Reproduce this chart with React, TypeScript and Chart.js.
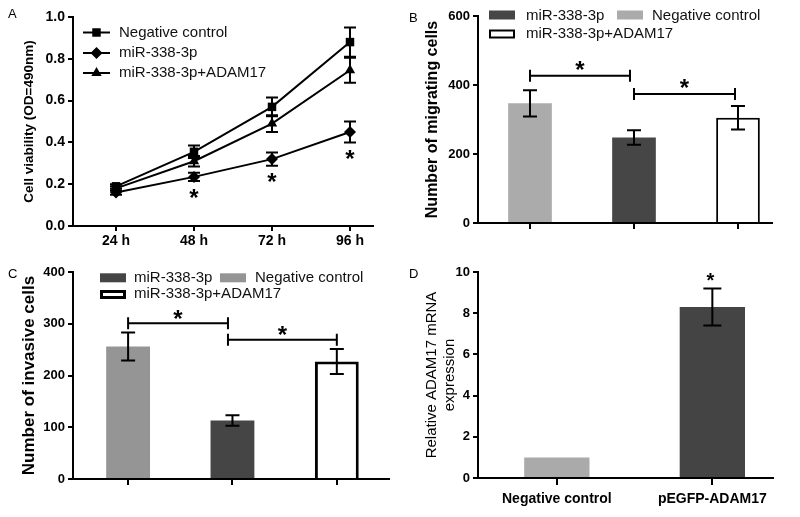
import React, { useEffect, useRef } from 'react';
import { Chart, registerables } from 'chart.js';

Chart.register(...registerables);

const FONT = '"Liberation Sans", Arial, Helvetica, sans-serif';

// ---------- Panel A: cell viability ----------
const timeLabels = ['24 h', '48 h', '72 h', '96 h'];
const timeHours = [24, 48, 72, 96];
const viabilityNC = [0.19, 0.355, 0.57, 0.88];
const viabilityNCErr = [0.01, 0.03, 0.045, 0.07];
const viabilityMiR = [0.16, 0.235, 0.32, 0.45];
const viabilityMiRErr = [0.01, 0.02, 0.032, 0.05];
const viabilityADAM = [0.18, 0.31, 0.49, 0.745];
const viabilityADAMErr = [0.01, 0.025, 0.04, 0.06];
const viabilityStarIdx = [1, 2, 3];
const seriesNames = ['Negative control', 'miR-338-3p', 'miR-338-3p+ADAM17'];

// ---------- Panels B & C: migration / invasion ----------
const groupNames = ['Negative control', 'miR-338-3p', 'miR-338-3p+ADAM17'];
const migratingCells = [347, 248, 305];
const migratingErr = [38, 21, 34];
const migratingBrackets = [[0, 1, 427], [1, 2, 374]];
const invasiveCells = [256, 113, 227];
const invasiveErr = [27, 10, 24];
const invasiveBrackets = [[0, 1, 301], [1, 2, 269]];

// ---------- Panel D: ADAM17 mRNA ----------
const expressionNames = ['Negative control', 'pEGFP-ADAM17'];
const expressionValues = [1.0, 8.3];
const expressionErr = [0, 0.9];
const expressionStarIdx = [1];

const BLACK = '#000';

const errorBarPlugin = {
  id: 'errorBars',
  afterDatasetsDraw(chart: any) {
    const ctx = chart.ctx;
    const ys = chart.scales.y;
    chart.data.datasets.forEach((ds: any, di: number) => {
      const errs = ds.errors;
      if (!errs) return;
      const meta = chart.getDatasetMeta(di);
      const cap = ds.capHalf ?? 6;
      ctx.save();
      ctx.strokeStyle = BLACK;
      ctx.lineWidth = 2;
      meta.data.forEach((el: any, i: number) => {
        const e = errs[i];
        if (!e) return;
        const v = ds.data[i].y;
        const x = el.x;
        const y1 = ys.getPixelForValue(v + e);
        const y2 = ys.getPixelForValue(v - e);
        ctx.beginPath();
        ctx.moveTo(x, y1); ctx.lineTo(x, y2);
        ctx.moveTo(x - cap, y1); ctx.lineTo(x + cap, y1);
        ctx.moveTo(x - cap, y2); ctx.lineTo(x + cap, y2);
        ctx.stroke();
      });
      ctx.restore();
    });
  },
};

function drawStar(ctx: CanvasRenderingContext2D, x: number, cy: number, size = 24) {
  ctx.save();
  ctx.fillStyle = BLACK;
  ctx.font = `bold ${size}px ${FONT}`;
  ctx.textAlign = 'center';
  ctx.textBaseline = 'alphabetic';
  ctx.fillText('*', x, cy + size * 0.56);
  ctx.restore();
}

function drawLetter(ctx: CanvasRenderingContext2D, t: string, x: number, y: number) {
  ctx.save();
  ctx.fillStyle = BLACK;
  ctx.font = `13px ${FONT}`;
  ctx.textAlign = 'left';
  ctx.textBaseline = 'alphabetic';
  ctx.fillText(t, x, y);
  ctx.restore();
}

function drawText(ctx: CanvasRenderingContext2D, t: string, x: number, y: number, size = 15) {
  ctx.save();
  ctx.fillStyle = '#111';
  ctx.font = `${size}px ${FONT}`;
  ctx.textAlign = 'left';
  ctx.textBaseline = 'middle';
  ctx.fillText(t, x, y);
  ctx.restore();
}

function drawMarker(ctx: CanvasRenderingContext2D, style: string, x: number, y: number, r: number) {
  ctx.beginPath();
  if (style === 'rect') {
    const s = Math.SQRT1_2 * r;
    ctx.rect(x - s, y - s, 2 * s, 2 * s);
  } else if (style === 'rectRot') {
    ctx.moveTo(x - r, y); ctx.lineTo(x, y - r); ctx.lineTo(x + r, y); ctx.lineTo(x, y + r); ctx.closePath();
  } else {
    ctx.moveTo(x, y - r);
    ctx.lineTo(x + Math.sin((2 * Math.PI) / 3) * r, y - Math.cos((2 * Math.PI) / 3) * r);
    ctx.lineTo(x + Math.sin((4 * Math.PI) / 3) * r, y - Math.cos((4 * Math.PI) / 3) * r);
    ctx.closePath();
  }
  ctx.fill();
}

function bracket(ctx: CanvasRenderingContext2D, x1: number, x2: number, y: number) {
  ctx.save();
  ctx.strokeStyle = BLACK;
  ctx.lineWidth = 2;
  ctx.beginPath();
  ctx.moveTo(x1, y); ctx.lineTo(x2, y);
  ctx.moveTo(x1, y - 6); ctx.lineTo(x1, y + 6);
  ctx.moveTo(x2, y - 6); ctx.lineTo(x2, y + 6);
  ctx.stroke();
  ctx.restore();
}

function swatch(ctx: CanvasRenderingContext2D, x: number, y: number, color: string, outline: number) {
  ctx.save();
  ctx.fillStyle = color;
  ctx.fillRect(x, y, 26, 9);
  if (outline) {
    ctx.strokeStyle = BLACK;
    ctx.lineWidth = outline;
    ctx.strokeRect(x + outline / 2, y + outline / 2, 26 - outline, 9 - outline);
  }
  ctx.restore();
}

function baseOptions(padTop: number, padRight: number) {
  return {
    responsive: false,
    animation: false,
    devicePixelRatio: 1,
    events: [],
    layout: { padding: { top: padTop, right: padRight, left: 0, bottom: 0 } },
    plugins: { legend: { display: false }, tooltip: { enabled: false } },
  };
}

function yAxis(min: number, max: number, step: number, width: number, fontSize: number, fmt: (v: number) => string, title: any) {
  return {
    type: 'linear',
    min,
    max,
    ticks: {
      stepSize: step,
      color: BLACK,
      padding: 3,
      font: { family: FONT, size: fontSize, weight: 'bold' },
      callback: (v: any) => fmt(Number(v)),
    },
    grid: { drawOnChartArea: false, drawTicks: true, tickLength: 5, color: BLACK, lineWidth: 2 },
    border: { display: true, color: BLACK, width: 2 },
    title,
    afterFit: (s: any) => { s.width = width; },
  };
}

function xAxis(min: number, max: number, values: number[], labelFn: (v: number) => string, height: number, tickLength: number, fontSize: number, padding: number) {
  return {
    type: 'linear',
    min,
    max,
    offset: false,
    afterBuildTicks: (s: any) => { s.ticks = values.map((v) => ({ value: v })); },
    ticks: {
      autoSkip: false,
      maxRotation: 0,
      color: BLACK,
      padding,
      font: { family: FONT, size: fontSize, weight: 'bold' },
      callback: (v: any) => labelFn(Number(v)),
    },
    grid: { drawOnChartArea: false, drawTicks: true, tickLength, color: BLACK, lineWidth: 2, offset: false },
    border: { display: true, color: BLACK, width: 2 },
    afterFit: (s: any) => { s.height = height; },
  };
}

const markerStyles = ['rect', 'rectRot', 'triangle'];

function makeA(): any {
  const series = [
    [viabilityNC, viabilityNCErr],
    [viabilityMiR, viabilityMiRErr],
    [viabilityADAM, viabilityADAMErr],
  ];
  const datasets = series.map(([vals, errs], k) => ({
    label: seriesNames[k],
    data: timeHours.map((h, i) => ({ x: h, y: vals[i] })),
    errors: errs,
    capHalf: 6,
    borderColor: BLACK,
    backgroundColor: BLACK,
    borderWidth: 2,
    pointStyle: markerStyles[k],
    pointRadius: 6,
    pointBackgroundColor: BLACK,
    pointBorderColor: BLACK,
    pointBorderWidth: 0,
    tension: 0,
  }));
  return {
    type: 'line',
    data: { datasets },
    options: {
      ...baseOptions(17, 27),
      scales: {
        x: xAxis(10.77, 103.08, timeHours, (v) => timeLabels[timeHours.indexOf(v)] ?? '', 29, 5, 14, 2),
        y: yAxis(0, 1, 0.2, 73, 14, (v) => v.toFixed(1), {
          display: true,
          text: 'Cell viability (OD=490nm)',
          color: BLACK,
          font: { family: FONT, size: 13.5, weight: 'bold' },
          padding: { top: 21, bottom: 0 },
        }),
      },
    },
    plugins: [
      errorBarPlugin,
      {
        id: 'decorA',
        afterDraw(chart: any) {
          const ctx = chart.ctx;
          drawLetter(ctx, 'A', 8, 18);
          const rows = [32.5, 53, 73];
          ctx.save();
          ctx.fillStyle = BLACK;
          ctx.strokeStyle = BLACK;
          ctx.lineWidth = 2;
          seriesNames.forEach((name, k) => {
            const y = rows[k];
            ctx.beginPath(); ctx.moveTo(83, y); ctx.lineTo(110, y); ctx.stroke();
            drawMarker(ctx, markerStyles[k], 96.5, y, 6);
            drawText(ctx, name, 119, y, 15);
          });
          ctx.restore();
          const ys = chart.scales.y;
          const meta = chart.getDatasetMeta(1);
          viabilityStarIdx.forEach((i) => {
            const x = meta.data[i].x;
            const y = ys.getPixelForValue(viabilityMiR[i] - viabilityMiRErr[i]) + 11;
            drawStar(ctx, x, y, 24);
          });
        },
      },
    ],
  };
}

function makeGroupBars(
  letter: string,
  values: number[],
  errs: number[],
  brackets: number[][],
  colors: string[],
  outline: number,
  yMax: number,
  yStep: number,
  geom: { yWidth: number; top: number; right: number; xHeight: number; xMin: number; xMax: number },
  title: any,
  legendPos: { sw: number[][]; tx: number[][] },
  insets: number[][],
  starGap: number,
): any {
  return {
    type: 'bar',
    data: {
      datasets: [
        {
          label: 'groups',
          data: values.map((v, i) => ({ x: i, y: v })),
          errors: errs,
          capHalf: 7,
          backgroundColor: colors,
          borderColor: BLACK,
          borderWidth: values.map((_, i) => (colors[i] === '#ffffff' ? outline : 0)),
          borderSkipped: 'start',
          barPercentage: 0.42,
          categoryPercentage: 1,
        },
      ],
    },
    options: {
      ...baseOptions(geom.top, geom.right),
      scales: {
        x: xAxis(geom.xMin, geom.xMax, values.map((_, i) => i), () => '', geom.xHeight, 6, 13, 4),
        y: yAxis(0, yMax, yStep, geom.yWidth, 13, (v) => String(Math.round(v)), title),
      },
    },
    plugins: [
      errorBarPlugin,
      {
        id: 'decor' + letter,
        afterDraw(chart: any) {
          const ctx = chart.ctx;
          drawLetter(ctx, letter, letter === 'B' ? 9 : 8, letter === 'B' ? 22 : 23);
          // legend: order miR, NC, ADAM
          const order = [1, 0, 2];
          order.forEach((gi, k) => {
            const [sx, sy] = legendPos.sw[k];
            const [tx, ty] = legendPos.tx[k];
            swatch(ctx, sx, sy, colors[gi], colors[gi] === '#ffffff' ? outline : 0);
            drawText(ctx, groupNames[gi], tx, ty, 15);
          });
          const meta = chart.getDatasetMeta(0);
          const ys = chart.scales.y;
          brackets.forEach(([a, b, v], k) => {
            const x1 = meta.data[a].x + insets[k][0];
            const x2 = meta.data[b].x + insets[k][1];
            const y = ys.getPixelForValue(v);
            bracket(ctx, x1, x2, y);
            drawStar(ctx, (x1 + x2) / 2, y - starGap, 24);
          });
        },
      },
    ],
  };
}

function makeB(): any {
  return makeGroupBars(
    'B',
    migratingCells,
    migratingErr,
    migratingBrackets,
    ['#ababab', '#464646', '#ffffff'],
    2,
    600,
    200,
    { yWidth: 78, top: 16, right: 28, xHeight: 32, xMin: -0.5, xMax: 2.327 },
    {
      display: true,
      text: 'Number of migrating cells',
      color: BLACK,
      font: { family: FONT, size: 16, weight: 'bold' },
      padding: { top: 22.5, bottom: 0 },
    },
    { sw: [[89, 10.5], [217, 10.5], [89, 29.5]], tx: [[126, 15.5], [252, 15.5], [126, 34]] },
    [[0, -4], [0, -3]],
    11,
  );
}

function makeC(): any {
  return makeGroupBars(
    'C',
    invasiveCells,
    invasiveErr,
    invasiveBrackets,
    ['#959595', '#454545', '#ffffff'],
    3,
    400,
    100,
    { yWidth: 73, top: 17, right: 11, xHeight: 38, xMin: -0.528, xMax: 2.5 },
    {
      display: true,
      text: 'Number of invasive cells',
      color: BLACK,
      font: { family: FONT, size: 17, weight: 'bold' },
      padding: { top: 19, bottom: 0 },
    },
    { sw: [[100, 18.3], [220, 18.3], [100, 35]], tx: [[134, 22.7], [255, 22.7], [134, 39.3]] },
    [[0, -4.5], [-4.5, 0]],
    10,
  );
}

function makeD(): any {
  return {
    type: 'bar',
    data: {
      datasets: [
        {
          label: 'expression',
          data: expressionValues.map((v, i) => ({ x: i, y: v })),
          errors: expressionErr,
          capHalf: 9,
          backgroundColor: ['#aaaaaa', '#444444'],
          borderWidth: 0,
          barPercentage: 0.42,
          categoryPercentage: 1,
        },
      ],
    },
    options: {
      ...baseOptions(17, 27),
      scales: {
        x: xAxis(-0.507, 1.39, expressionValues.map((_, i) => i), (v) => expressionNames[v] ?? '', 39, 7, 14, 6),
        y: yAxis(0, 10, 2, 78, 13, (v) => String(Math.round(v)), {
          display: true,
          text: ['Relative ADAM17 mRNA', 'expression'],
          color: BLACK,
          font: { family: FONT, size: 15, weight: 'normal' },
          padding: { top: 22.5, bottom: 0 },
        }),
      },
    },
    plugins: [
      errorBarPlugin,
      {
        id: 'decorD',
        afterDraw(chart: any) {
          const ctx = chart.ctx;
          drawLetter(ctx, 'D', 9, 23);
          const meta = chart.getDatasetMeta(0);
          const ys = chart.scales.y;
          expressionStarIdx.forEach((i) => {
            const y = ys.getPixelForValue(expressionValues[i] + expressionErr[i]) - 12.5;
            drawStar(ctx, meta.data[i].x - 2, y, 20);
          });
        },
      },
    ],
  };
}

function Panel({ x, y, w, h, make }: { x: number; y: number; w: number; h: number; make: () => any }) {
  const ref = useRef<HTMLCanvasElement>(null);
  useEffect(() => {
    if (!ref.current) return;
    const chart = new Chart(ref.current, make());
    return () => chart.destroy();
  }, [make]);
  return (
    <canvas
      ref={ref}
      width={w}
      height={h}
      style={{ position: 'absolute', left: x, top: y, width: w, height: h, display: 'block' }}
    />
  );
}

export default function App() {
  return (
    <div style={{ position: 'absolute', left: 0, top: 0, width: 800, height: 517, background: '#fff', overflow: 'hidden' }}>
      <Panel x={0} y={0} w={400} h={255} make={makeA} />
      <Panel x={400} y={0} w={400} h={255} make={makeB} />
      <Panel x={0} y={255} w={400} h={262} make={makeC} />
      <Panel x={400} y={255} w={400} h={262} make={makeD} />
    </div>
  );
}
